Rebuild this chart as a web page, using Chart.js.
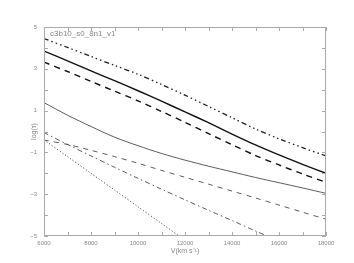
<!DOCTYPE html>
<html><head><meta charset="utf-8">
<script src="https://cdn.jsdelivr.net/npm/chart.js@4/dist/chart.umd.min.js"></script>
<style>html,body{margin:0;padding:0;background:#fff;}canvas{display:block;}</style>
</head><body>
<canvas id="c" width="354" height="263"></canvas>
<script>
// Velocity grid (km/s)
const velocities = [6000, 7000, 8000, 9000, 10000, 11000, 12000, 13000, 14000, 15000, 16000, 17000, 18000];
// log(tau) series
const tauDashDot3Thick = [4.45, 4.02, 3.59, 3.16, 2.74, 2.25, 1.74, 1.20, 0.66, 0.12, -0.35, -0.77, -1.17];
const tauSolidThick    = [3.85, 3.38, 2.90, 2.43, 1.95, 1.45, 0.94, 0.42, -0.12, -0.64, -1.12, -1.57, -2.00];
const tauDashedThick   = [3.32, 2.87, 2.40, 1.93, 1.47, 0.96, 0.44, -0.10, -0.63, -1.15, -1.60, -2.03, -2.43];
const tauSolidThin     = [1.38, 0.78, 0.24, -0.27, -0.68, -1.05, -1.37, -1.66, -1.93, -2.20, -2.45, -2.70, -2.96];
const tauDashedThin    = [-0.41, -0.62, -0.90, -1.20, -1.52, -1.86, -2.19, -2.52, -2.85, -3.18, -3.52, -3.86, -4.20];
const tauDashDotThin   = [-0.05, -0.62, -1.17, -1.71, -2.24, -2.76, -3.27, -3.77, -4.26, -4.76, -5.25, null, null];
const tauDotted        = [-0.40, -1.20, -2.00, -2.80, -3.60, -4.40, -5.20, null, null, null, null, null, null];
// tick label settings
const xLabelStep = 2000;
const yLabelValues = [5, 3, 1, -1, -3, -5];
const modelLabel = 'c3b10_s0_8n1_v1';

const toXY = arr => velocities.map((v, i) => ({x: v, y: arr[i]}));
const mk = (arr, width, dash, color) => ({
  data: toXY(arr), borderColor: color, borderWidth: width, borderDash: dash,
  pointRadius: 0, fill: false, tension: 0.3, spanGaps: false
});

const framePlugin = {
  id: 'frame',
  afterDatasetsDraw(chart) {
    const {ctx, chartArea: a, scales: {x, y}} = chart;
    ctx.save();
    ctx.strokeStyle = '#aaa';
    ctx.lineWidth = 1;
    ctx.strokeRect(a.left + 0.5, a.top + 0.5, a.right - a.left - 1, a.bottom - a.top - 1);
    const L = 4;
    ctx.beginPath();
    x.ticks.forEach(t => {
      const px = Math.round(x.getPixelForValue(t.value)) + 0.5;
      ctx.moveTo(px, a.bottom); ctx.lineTo(px, a.bottom - L);
      ctx.moveTo(px, a.top); ctx.lineTo(px, a.top + L);
    });
    y.ticks.forEach(t => {
      const py = Math.round(y.getPixelForValue(t.value)) + 0.5;
      ctx.moveTo(a.left, py); ctx.lineTo(a.left + L, py);
      ctx.moveTo(a.right, py); ctx.lineTo(a.right - L, py);
    });
    ctx.stroke();
    ctx.fillStyle = '#888';
    ctx.font = '8px "Liberation Sans"';
    ctx.textBaseline = 'middle';
    ctx.fillText(modelLabel, a.left + 6, a.top + 7);
    ctx.restore();
  }
};

new Chart(document.getElementById('c'), {
  type: 'line',
  data: {
    datasets: [
      mk(tauDashDot3Thick, 1.3, [5, 3, 1.5, 3, 1.5, 3, 1.5, 3], '#222'),
      mk(tauSolidThick, 1.4, [], '#111'),
      mk(tauDashedThick, 1.4, [6, 5], '#111'),
      mk(tauSolidThin, 0.8, [], '#333'),
      mk(tauDashedThin, 0.8, [5, 5], '#333'),
      mk(tauDashDotThin, 0.8, [5, 3, 1.5, 3], '#333'),
      mk(tauDotted, 0.9, [1.2, 2], '#444')
    ]
  },
  options: {
    responsive: false,
    animation: false,
    devicePixelRatio: 1,
    layout: {padding: {left: 0, right: 28, top: 27, bottom: 0}},
    plugins: {legend: {display: false}, tooltip: {enabled: false}},
    scales: {
      x: {
        type: 'linear', min: 6000, max: 18000,
        grid: {display: false, drawTicks: false}, border: {display: false},
        ticks: {
          stepSize: 1000, autoSkip: false, maxRotation: 0, padding: 4,
          color: '#888', font: {size: 6, family: 'Liberation Sans'},
          callback: v => (v % xLabelStep === 0 ? String(v) : '')
        },
        title: {display: true, text: 'V(km s\u207B\u00B9)', color: '#888',
          font: {size: 7, family: 'Liberation Sans'}, padding: {top: 0, bottom: 8}},
        afterFit: s => { s.height = 27; }
      },
      y: {
        min: -5, max: 5,
        grid: {display: false, drawTicks: false}, border: {display: false},
        ticks: {
          stepSize: 1, autoSkip: false, padding: 7,
          color: '#888', font: {size: 6, family: 'Liberation Sans'},
          callback: v => (yLabelValues.includes(v) ? String(v).replace('-', '\u2212') : '')
        },
        title: {display: true, text: 'log(\u03C4)', color: '#888',
          font: {size: 7, family: 'Liberation Sans'}, padding: {top: 30, bottom: 0}},
        afterFit: s => { s.width = 44; }
      }
    }
  },
  plugins: [framePlugin]
});
</script>
</body></html>
